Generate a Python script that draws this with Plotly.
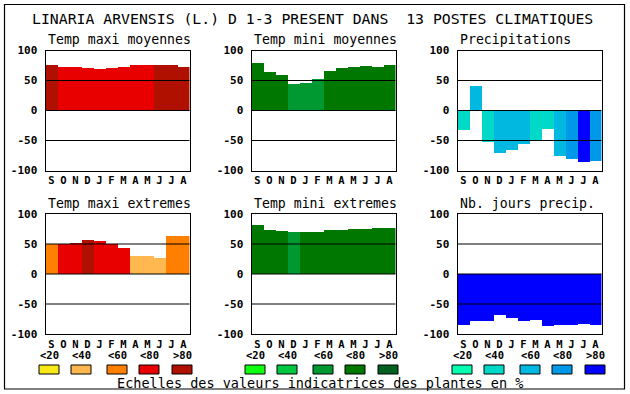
import plotly.graph_objects as go

# ---------------- data ----------------
months = ["S", "O", "N", "D", "J", "F", "M", "A", "M", "J", "J", "A"]

tmax_moy = [77, 74, 74, 72, 70.5, 72, 74, 77, 77, 77, 77, 74]
tmax_moy_cat = [4, 3, 3, 3, 3, 3, 3, 3, 3, 4, 4, 4]

tmin_moy = [80.5, 65.5, 60.5, 45.5, 47, 54, 67, 72, 74, 75.5, 74, 77]
tmin_moy_cat = [3, 3, 3, 2, 2, 2, 3, 3, 3, 3, 3, 3]

precip = [-32, 42, -52, -70.5, -65.5, -55.5, -49, -30.5, -75.5, -80.5, -85.5, -84]
precip_cat = [1, 2, 1, 2, 2, 2, 1, 1, 2, 3, 4, 3]

tmax_ext = [50, 50, 52, 57, 55, 50, 44, 30, 30, 26.5, 64, 64]
tmax_ext_cat = [2, 3, 3, 4, 3, 3, 3, 1, 1, 1, 2, 2]

tmin_ext = [82, 74, 72, 70.5, 70.5, 70.5, 73, 73, 75, 75, 76.5, 76.5]
tmin_ext_cat = [3, 3, 3, 2, 3, 3, 3, 3, 3, 3, 3, 3]

jours_precip = [-84.5, -78.5, -78.5, -68.5, -73, -78.5, -77, -86, -84.5, -84.5, -83, -84.5]
jours_precip_cat = [4] * 12

reds = ["#F8E818", "#FFB850", "#FF8000", "#E80000", "#B01000"]
greens = ["#10FF10", "#00C840", "#009830", "#007800", "#006020"]
blues = ["#00FFB0", "#00D8C8", "#00B8E0", "#0098E8", "#0000FF"]

legend_labels = ["<20", "<40", "<60", "<80", ">80"]
y_ticks = [-100, -50, 0, 50, 100]

title = "LINARIA ARVENSIS (L.) D 1-3 PRESENT DANS  13 POSTES CLIMATIQUES"
panel_titles = ["Temp maxi moyennes", "Temp mini moyennes", "Precipitations",
                "Temp maxi extremes", "Temp mini extremes", "Nb. jours precip."]
footer = "Echelles des valeurs indicatrices des plantes en %"

# ---------------- layout ----------------
W, H = 630, 394
FONT = "DejaVu Sans Mono"

panels = [
    (tmax_moy, tmax_moy_cat, reds),
    (tmin_moy, tmin_moy_cat, greens),
    (precip, precip_cat, blues),
    (tmax_ext, tmax_ext_cat, reds),
    (tmin_ext, tmin_ext_cat, greens),
    (jours_precip, jours_precip_cat, blues),
]

col_x = [(45.5, 189.5), (251.5, 395.5), (457.5, 601.5)]
row_y = [(50.5, 170.5), (214, 334)]

def px(x):
    return x / W

def py(y):
    return 1 - y / H

fig = go.Figure()
shapes = []
annotations = []

for i, (vals, cats, pal) in enumerate(panels):
    r, c = divmod(i, 3)
    n = i + 1
    xa = "x" if n == 1 else f"x{n}"
    ya = "y" if n == 1 else f"y{n}"
    fig.add_trace(go.Bar(
        x=list(range(len(months))), y=vals,
        marker=dict(color=[pal[k] for k in cats], line=dict(width=0)),
        width=1.0, xaxis=xa, yaxis=ya, showlegend=False, hoverinfo="skip",
    ))
    x0, x1 = col_x[c]
    y0, y1 = row_y[r]
    xkey = "xaxis" if n == 1 else f"xaxis{n}"
    ykey = "yaxis" if n == 1 else f"yaxis{n}"
    fig.layout[xkey] = dict(
        domain=[px(x0), px(x1)], anchor=ya, range=[-0.5, 11.5],
        tickvals=list(range(12)), ticktext=months, automargin=False,
        tickfont=dict(family=FONT, size=10.5, color="black", weight="bold"),
        showgrid=False, zeroline=False, showline=True, mirror=True,
        linecolor="black", linewidth=1, ticks="", fixedrange=True,
    )
    fig.layout[ykey] = dict(
        domain=[py(y1), py(y0)], anchor=xa, range=[-100, 100],
        tickvals=y_ticks, ticktext=[str(v) for v in y_ticks], automargin=False,
        tickfont=dict(family=FONT, size=11, color="black", weight="bold"),
        showgrid=False, zeroline=False, showline=True, mirror=True,
        linecolor="black", linewidth=1, ticks="outside", ticklen=5,
        tickcolor="rgba(0,0,0,0)", fixedrange=True,
    )
    for lv in (-50, 0, 50):
        shapes.append(dict(type="line", xref=f"{xa} domain", yref=ya,
                           x0=0, x1=1, y0=lv, y1=lv, layer="above",
                           line=dict(color="black", width=1.2 if lv == 0 else 1)))
    annotations.append(dict(text=panel_titles[i], x=px(x0), y=py(y0 - 11),
                            xref="paper", yref="paper", xanchor="left", yanchor="middle",
                            showarrow=False, font=dict(family=FONT, size=13.2, color="black")))

# title
annotations.append(dict(text=title, x=px(30), y=py(19), xref="paper", yref="paper",
                        xanchor="left", yanchor="middle", showarrow=False,
                        font=dict(family=FONT, size=14.8, color="black")))
# footer
annotations.append(dict(text=footer, x=px(115), y=py(382.5), xref="paper", yref="paper",
                        xanchor="left", yanchor="middle", showarrow=False,
                        font=dict(family=FONT, size=13.5, color="black")))

# colour scales
group_start = [39, 245, 452]
offsets = [0, 32, 68, 100, 133]
for g, pal in enumerate([reds, greens, blues]):
    for k in range(5):
        bx = group_start[g] + offsets[k]
        shapes.append(dict(type="rect", xref="paper", yref="paper",
                           x0=px(bx), x1=px(bx + 20), y0=py(374), y1=py(365),
                           fillcolor=pal[k], line=dict(color="black", width=1)))
        annotations.append(dict(text=legend_labels[k], x=px(bx - 1), y=py(355),
                                xref="paper", yref="paper", xanchor="left", yanchor="middle",
                                showarrow=False,
                                font=dict(family=FONT, size=10.5, color="black", weight="bold")))

# outer frame
shapes.append(dict(type="rect", xref="paper", yref="paper",
                   x0=px(4.5), x1=px(624.5), y0=py(389), y1=py(4.5),
                   line=dict(color="black", width=1.2), fillcolor="rgba(0,0,0,0)"))

fig.update_layout(
    width=W, height=H, margin=dict(l=0, r=0, t=0, b=0, autoexpand=False),
    paper_bgcolor="white", plot_bgcolor="white",
    bargap=0, shapes=shapes, annotations=annotations,
)

fig.write_html(
    "out.html",
    config={"displayModeBar": False},
    post_script="document.body.style.margin='0';document.body.style.overflow='hidden';",
)
